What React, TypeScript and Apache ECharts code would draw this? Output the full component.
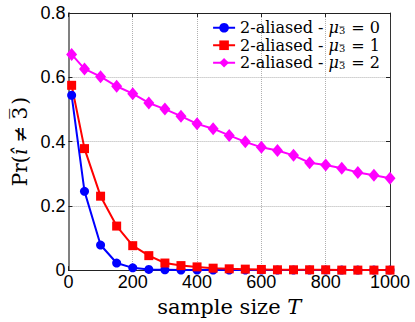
import React, { useEffect, useRef } from "react";
import * as echarts from "echarts";

const sampleSizes = [10, 50, 100, 150, 200, 250, 300, 350, 400, 450, 500, 550, 600, 650, 700, 750, 800, 850, 900, 950, 1000];
const mu0 = [0.544, 0.245, 0.078, 0.022, 0.007, 0.002, 0.001, 0, 0, 0, 0, 0, 0, 0, 0, 0, 0, 0, 0, 0, 0];
const mu1 = [0.575, 0.378, 0.23, 0.137, 0.076, 0.045, 0.022, 0.014, 0.01, 0.006, 0.004, 0.003, 0.002, 0.001, 0.001, 0.001, 0.001, 0, 0, 0, 0];
const mu2 = [0.671, 0.626, 0.602, 0.572, 0.549, 0.52, 0.501, 0.479, 0.455, 0.44, 0.419, 0.399, 0.382, 0.372, 0.357, 0.334, 0.327, 0.317, 0.304, 0.295, 0.286];
const muValues = ["0", "1", "2"];
const seriesNames = ["2-aliased - μ3̄ = 0", "2-aliased - μ3̄ = 1", "2-aliased - μ3̄ = 2"];
const seriesColors = ["#0000ff", "#ff0000", "#ff00ff"];

const SERIF = "DejaVu Serif";
const SANS = "Liberation Sans";

export default function App() {
  const ref = useRef<HTMLDivElement>(null);
  useEffect(() => {
    if (!ref.current) return;
    const chart = echarts.init(ref.current, null, { renderer: "svg" });
    const pair = (ys: number[]) => sampleSizes.map((x, i) => [x, ys[i]]);
    const gridColor = "#b0b0b0";
    chart.setOption({
      animation: false,
      grid: { left: 64, right: 25, top: 13, bottom: 48 },
      legend: {
        orient: "vertical",
        right: 35,
        top: 19,
        padding: 0,
        itemWidth: 22,
        itemHeight: 12,
        itemGap: 0,
        data: seriesNames,
        formatter: (name: string) => {
          const idx = seriesNames.indexOf(name);
          return `{tx|2-aliased - }{mu|μ}{sb|3}{ov|‾}{tx| = ${muValues[idx]}}`;
        },
        textStyle: {
          color: "#000",
          fontFamily: SERIF,
          fontSize: 16,
          lineHeight: 17.5,
          rich: {
            tx: { fontFamily: SERIF, fontSize: 16, color: "#000", lineHeight: 17.5 },
            mu: { fontFamily: SERIF, fontSize: 16, fontStyle: "italic", color: "#000", lineHeight: 17.5 },
            sb: { fontFamily: SERIF, fontSize: 10, color: "#000", lineHeight: 17.5, padding: [6, 0, 0, 0] },
            ov: { fontFamily: SERIF, fontSize: 10, color: "#000", lineHeight: 17.5, padding: [4, 2, 0, -6] },
          },
        },
      },
      xAxis: [
        {
          type: "value",
          min: 0,
          max: 1000,
          interval: 200,
          name: "sample size {it|T}",
          nameLocation: "middle",
          nameGap: 25,
          nameTextStyle: {
            fontFamily: SERIF,
            fontSize: 21,
            color: "#000",
            rich: { it: { fontFamily: SERIF, fontSize: 21, fontStyle: "italic", color: "#000" } },
          },
          axisLine: { show: true, onZero: false, lineStyle: { color: "#222", width: 1 } },
          axisTick: { show: true, inside: true, length: 4, lineStyle: { color: "#222" } },
          axisLabel: { fontFamily: SANS, fontSize: 18, color: "#000", margin: 3, formatter: (v: number) => String(v) },
          splitLine: { show: true, lineStyle: { type: "dotted", color: gridColor, width: 1 } },
        },
        {
          type: "value",
          position: "top",
          min: 0,
          max: 1000,
          interval: 200,
          axisLine: { show: true, onZero: false, lineStyle: { color: "#222", width: 1 } },
          axisTick: { show: true, inside: true, length: 4, lineStyle: { color: "#222" } },
          axisLabel: { show: false },
          splitLine: { show: false },
        },
      ],
      yAxis: [
        {
          type: "value",
          min: 0,
          max: 0.8,
          interval: 0.2,
          name: "Pr({it|î} ≠ 3{ov|‾})",
          nameLocation: "middle",
          nameGap: 36,
          nameTextStyle: {
            fontFamily: SERIF,
            fontSize: 20,
            color: "#000",
            rich: {
              it: { fontFamily: SERIF, fontSize: 20, fontStyle: "italic", color: "#000" },
              ov: { fontFamily: SERIF, fontSize: 20, color: "#000", padding: [0, 4, 3, -12] },
            },
          },
          axisLine: { show: true, onZero: false, lineStyle: { color: "#808080", width: 2 } },
          axisTick: { show: true, inside: true, length: 4, lineStyle: { color: "#222" } },
          axisLabel: {
            fontFamily: SANS,
            fontSize: 18,
            color: "#000",
            margin: 3,
            formatter: (v: number) => (v === 0 ? "0" : v.toFixed(1)),
          },
          splitLine: { show: true, lineStyle: { type: "dotted", color: gridColor, width: 1 } },
        },
        {
          type: "value",
          position: "right",
          min: 0,
          max: 0.8,
          interval: 0.2,
          axisLine: { show: true, onZero: false, lineStyle: { color: "#333", width: 1 } },
          axisTick: { show: true, inside: true, length: 4, lineStyle: { color: "#222" } },
          axisLabel: { show: false },
          splitLine: { show: false },
        },
      ],
      series: [
        {
          name: seriesNames[0],
          type: "line",
          data: pair(mu0),
          symbol: "circle",
          symbolSize: 9,
          color: seriesColors[0],
          lineStyle: { width: 2, color: seriesColors[0] },
          itemStyle: { color: seriesColors[0] },
        },
        {
          name: seriesNames[1],
          type: "line",
          data: pair(mu1),
          symbol: "rect",
          symbolSize: 9,
          color: seriesColors[1],
          lineStyle: { width: 2, color: seriesColors[1] },
          itemStyle: { color: seriesColors[1] },
        },
        {
          name: seriesNames[2],
          type: "line",
          data: pair(mu2),
          symbol: "diamond",
          symbolSize: [11, 13],
          color: seriesColors[2],
          lineStyle: { width: 2, color: seriesColors[2] },
          itemStyle: { color: seriesColors[2] },
        },
      ],
    });
    return () => chart.dispose();
  }, []);
  return <div ref={ref} style={{ width: 415, height: 322, position: "absolute", left: 0, top: 0 }} />;
}
